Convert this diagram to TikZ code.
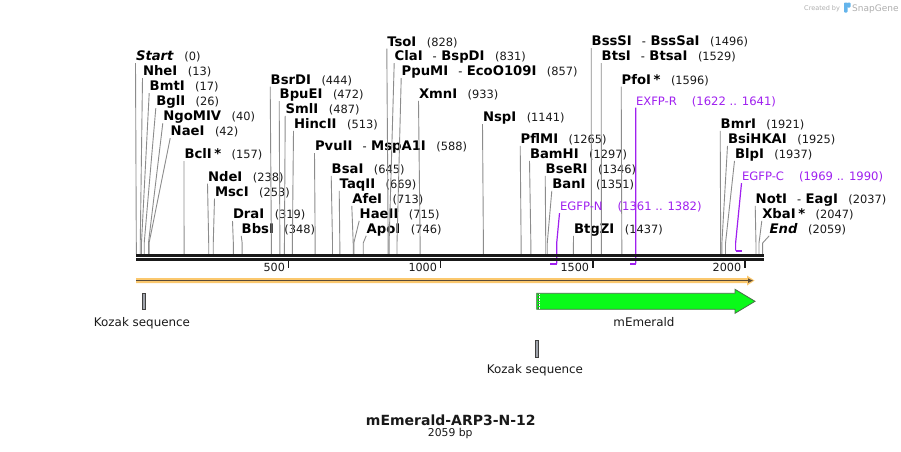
\documentclass[tikz,border=0pt]{standalone}
\usepackage{fontspec}
\setmainfont{DejaVu Sans}
\usetikzlibrary{calc}
\definecolor{cutgray}{RGB}{140,140,140}
\definecolor{primer}{RGB}{160,32,240}
\definecolor{featorange}{RGB}{251,200,110}
\definecolor{featline}{RGB}{90,75,55}
\definecolor{gfp}{RGB}{10,250,25}
\definecolor{gfpedge}{RGB}{70,110,70}
\definecolor{kozakfill}{RGB}{160,164,172}
\definecolor{numcol}{RGB}{25,25,25}
\definecolor{logogray}{RGB}{175,175,175}
\definecolor{logoblue}{RGB}{100,180,235}

\newcommand\enznum[1]{{\mdseries\upshape\fontsize{11.4}{13}\selectfont\color{numcol}#1}}
\newcommand\enzdash{\hspace{10pt}{\mdseries\fontsize{11.4}{13}\selectfont -}\hspace{4.5pt}}
\newcommand\enzstar{\hspace{2.5pt}*}
\newcommand\enzsite[6]{%
  \node[lab] (#1) at (#2,#3) {{\fontsize{13.2}{15}\selectfont\bfseries #4}\hspace{10.5pt}\enznum{(#5)}};
  \coordinate (#1s) at ({136.3+0.3042*#6},254);
  \draw[cut] ($(#1.base west)+(-0.5,2.5)$) -- ($(#1s)+(0,-11)$) -- (#1s);
}

\begin{document}
\begin{tikzpicture}[x=1pt,y=-1pt,
  lab/.style={anchor=base west,inner sep=0pt,outer sep=0pt},
  cut/.style={draw=cutgray,line width=0.9pt},
  primerline/.style={draw=primer,line width=1.2pt},
  primerbar/.style={draw=primer,line width=2pt},
  primertext/.style={anchor=base west,inner sep=0pt,outer sep=0pt,text=primer,font=\fontsize{11.6}{13}\selectfont},
  feattext/.style={anchor=base,inner sep=0pt,outer sep=0pt,text=numcol,font=\fontsize{11.9}{13}\selectfont},
  ticktext/.style={anchor=base east,inner sep=0pt,outer sep=0pt,text=numcol,font=\fontsize{11.2}{13}\selectfont},
  kozak/.style={fill=kozakfill,draw=black!75,line width=0.7pt}]
\useasboundingbox (0,0) rectangle (901,451);
\fill[white] (0,0) rectangle (901,451);

% ---- restriction sites ----
\enzsite{eStart}{136}{60.7}{\textit{Start}}{0}{0}
\enzsite{eNheI}{143}{75.7}{NheI}{13}{13}
\enzsite{eBmtI}{149.7}{90.7}{BmtI}{17}{17}
\enzsite{eBglI}{156.3}{105.7}{BglI}{26}{26}
\enzsite{eNgoMIV}{163.3}{120.7}{NgoMIV}{40}{40}
\enzsite{eNaeI}{170.7}{135.7}{NaeI}{42}{42}
\enzsite{eBclI}{184.5}{158.5}{BclI\enzstar}{157}{157}
\enzsite{eNdeI}{208}{181.2}{NdeI}{238}{238}
\enzsite{eMscI}{215}{196}{MscI}{253}{253}
\enzsite{eDraI}{233}{218.5}{DraI}{319}{319}
\enzsite{eBbsI}{241.7}{233.3}{BbsI}{348}{348}
\enzsite{eBsrDI}{270.7}{84}{BsrDI}{444}{444}
\enzsite{eBpuEI}{279.7}{98.7}{BpuEI}{472}{472}
\enzsite{eSmlI}{285.7}{113.3}{SmlI}{487}{487}
\enzsite{eHincII}{294}{128.3}{HincII}{513}{513}
\enzsite{ePvuII}{315}{150.7}{PvuII\enzdash MspA1I}{588}{588}
\enzsite{eBsaI}{331.7}{173.3}{BsaI}{645}{645}
\enzsite{eTaqII}{339.7}{188.3}{TaqII}{669}{669}
\enzsite{eAfeI}{352.3}{203.3}{AfeI}{713}{713}
\enzsite{eHaeII}{359.7}{218.3}{HaeII}{715}{715}
\enzsite{eApoI}{366.7}{233.3}{ApoI}{746}{746}
\enzsite{eTsoI}{387.3}{46}{TsoI}{828}{828}
\enzsite{eClaI}{394.7}{60.7}{ClaI\enzdash BspDI}{831}{831}
\enzsite{ePpuMI}{401.7}{75.7}{PpuMI\enzdash EcoO109I}{857}{857}
\enzsite{eXmnI}{419}{98.3}{XmnI}{933}{933}
\enzsite{eNspI}{483}{121.7}{NspI}{1141}{1141}
\enzsite{ePflMI}{520.7}{143.3}{PflMI}{1265}{1265}
\enzsite{eBamHI}{530}{158.3}{BamHI}{1297}{1297}
\enzsite{eBseRI}{545.7}{173.3}{BseRI}{1346}{1346}
\enzsite{eBanI}{552.3}{188.3}{BanI}{1351}{1351}
\enzsite{eBtgZI}{574}{233.3}{BtgZI}{1437}{1437}
\enzsite{eBssSI}{591.7}{45.7}{BssSI\enzdash BssSaI}{1496}{1496}
\enzsite{eBtsI}{601.7}{60.5}{BtsI\enzdash BtsaI}{1529}{1529}
\enzsite{ePfoI}{621.7}{84}{PfoI\enzstar}{1596}{1596}
\enzsite{eBmrI}{720.7}{128.3}{BmrI}{1921}{1921}
\enzsite{eBsiHKAI}{728}{143.3}{BsiHKAI}{1925}{1925}
\enzsite{eBlpI}{735}{158.3}{BlpI}{1937}{1937}
\enzsite{eNotI}{755.7}{203.3}{NotI\enzdash EagI}{2037}{2037}
\enzsite{eXbaI}{762.3}{218.3}{XbaI\enzstar}{2047}{2047}
\enzsite{eEnd}{769.7}{233.3}{\textit{End}}{2059}{2059}

% ---- primers ----
\node[primertext] (pN) at (560,210.7) {EGFP-N\hspace{15pt}(1361 .. 1382)};
\coordinate (pNa) at (556.7,243);
\coordinate (pNb) at (556.7,263.7);
\coordinate (pNc) at (550.3,263.7);
\draw[primerline] ($(pN.base west)+(-0.5,2.5)$) -- (pNa) -- (pNb);
\draw[primerbar] (pNb) -- (pNc);

\node[primertext] (pR) at (636,105) {EXFP-R\hspace{15pt}(1622 .. 1641)};
\coordinate (pRb) at (635.8,263.7);
\coordinate (pRc) at (629.7,263.7);
\draw[primerline] ($(pR.base west)+(-0.3,2.5)$) -- (pRb);
\draw[primerbar] (pRb) -- (pRc);

\node[primertext] (pC) at (742,180.7) {EGFP-C\hspace{15pt}(1969 .. 1990)};
\coordinate (pCa) at (735.6,243);
\coordinate (pCb) at (735.6,250.5);
\coordinate (pCc) at (741.6,250.5);
\draw[primerline] ($(pC.base west)+(-0.5,2.5)$) -- (pCa) -- (pCb);
\draw[primerbar] (pCb) -- (pCc);

% ---- sequence baseline ----
\draw[line width=2.7pt,black!90] (136,255.3) -- (764,255.3);
\draw[line width=2.7pt,black!90] (136,259.3) -- (764,259.3);

% ---- ticks ----
\foreach \p/\t in {500/t1,1000/t2,1500/t3,2000/t4}{
  \coordinate (\t) at ({136.3+0.3042*\p},260.5);
  \draw[line width=1.8pt,black!90] (\t) -- ++(0,7);
  \node[ticktext] at ($(\t)+(-3.5,10.5)$) {\p};
}

% ---- orange full-length feature ----
\fill[featorange] (136,278) -- (747,278) -- (747,275.5) -- (754.5,280.5) -- (747,285.5) -- (747,283) -- (136,283) -- cycle;
\draw[featline,line width=1.5pt] (136,280.6) -- (749,280.6);
\fill[featline] (748,278.3) -- (752.8,280.6) -- (748,282.9) -- cycle;

% ---- Kozak 1 ----
\node[kozak,minimum width=3.3pt,minimum height=16pt,inner sep=0pt,anchor=north west] (k1) at (142,293.3) {};
\node[feattext] (k1l) at (142,326) {Kozak sequence};

% ---- mEmerald ----
\draw[fill=gfp,draw=gfpedge,line width=0.8pt] (536.7,293.3) -- (735,293.3) -- (735,289.3) -- (755,301.3) -- (735,313.3) -- (735,309.3) -- (536.7,309.3) -- cycle;
\draw[black!70,line width=0.6pt,dash pattern=on 0.8pt off 0.8pt] (538,294) -- (538,308.6);
\draw[white,line width=0.6pt,dash pattern=on 0.8pt off 0.8pt] (539,294) -- (539,308.6);
\node[feattext] (gl) at (644,326) {mEmerald};

% ---- Kozak 2 ----
\node[kozak,minimum width=3.3pt,minimum height=16.7pt,inner sep=0pt,anchor=north west] (k2) at (535,340) {};
\node[feattext] (k2l) at (535,373.3) {Kozak sequence};

% ---- title ----
\node[anchor=base,inner sep=0pt,font=\fontsize{14}{16}\selectfont\bfseries,text=black!90] (title) at (450.8,425) {mEmerald-ARP3-N-12};
\node[anchor=base,inner sep=0pt,font=\fontsize{10.8}{12}\selectfont,text=numcol] (len) at (450.3,436.7) {2059 bp};

% ---- logo ----
\node[anchor=base west,inner sep=0pt,font=\fontsize{6.5}{8}\selectfont,text=logogray] (cb) at (804,10.5) {Created by};
\fill[logoblue,rounded corners=0.8pt] (844,2.5) rectangle (847.5,12.5);
\fill[logoblue,rounded corners=0.8pt] (847,2.5) rectangle (850.5,7.5);
\node[anchor=base west,inner sep=0pt,font=\fontsize{9}{10}\selectfont,text=logogray] (sg) at (852,11) {SnapGene};
\end{tikzpicture}
\end{document}
